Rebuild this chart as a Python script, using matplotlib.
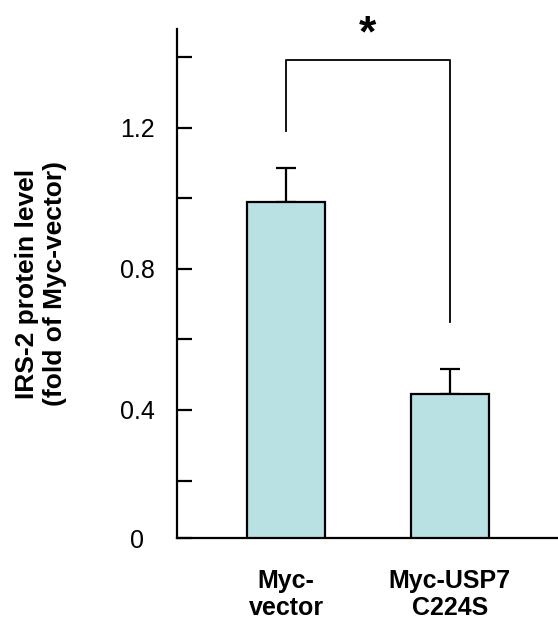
import matplotlib
matplotlib.use("Agg")
import matplotlib.pyplot as plt
import matplotlib.transforms as mtransforms

categories = ["Myc-\nvector", "Myc-USP7\nC224S"]
values = [0.99, 0.445]
errors = [0.095, 0.07]
ytick_values = [0.037, 0.2, 0.4, 0.6, 0.8, 1.0, 1.2, 1.4]
ytick_labels = ["0", "", "0.4", "", "0.8", "", "1.2", ""]

plt.rcParams['font.family'] = ['Liberation Sans', 'DejaVu Sans']

fig = plt.figure(figsize=(5.58, 6.19), dpi=100)
ax = fig.add_axes([177/558, 1 - 538/619, 1 - 177/558, (538 - 29)/619])

x = list(range(len(categories)))
ax.bar(x, values, width=0.48, color="#B9E0E2", edgecolor="black", linewidth=1.6, zorder=2)
ax.errorbar(x, values, yerr=[[0]*len(errors), errors], fmt="none", ecolor="black",
            elinewidth=1.6, capsize=7.5, capthick=1.6, zorder=1)

ax.set_xlim(-0.665, 1.66)
ax.set_ylim(0.037, 1.48)
ax.set_yticks(ytick_values)
ax.set_yticklabels(ytick_labels, fontsize=18)
ax.tick_params(axis='y', direction='in', length=11, width=1.6, pad=16)
ax.set_xticks(x)
ax.set_xticklabels(categories, fontsize=18, fontweight='bold')
ax.tick_params(axis='x', length=0, pad=22)
for s in ['top', 'right']:
    ax.spines[s].set_visible(False)
for s in ['left', 'bottom']:
    ax.spines[s].set_linewidth(1.6)

# the "0" label sits a little further left in the reference
zero_lbl = ax.get_yticklabels()[0]
zero_lbl.set_transform(zero_lbl.get_transform() +
                       mtransforms.ScaledTranslation(-8/72, 0, fig.dpi_scale_trans))

# significance bracket
bracket_y = 1.392
ax.plot([0, 0, 1, 1], [1.19, bracket_y, bracket_y, 0.65], color="black", lw=1.3,
        clip_on=False, zorder=3)
ax.text(0.5, 1.462, "*", ha='center', va='center', fontsize=32, fontweight='bold',
        clip_on=False)

fig.text(41/558, 1 - 284/619, "IRS-2 protein level\n(fold of Myc-vector)", rotation=90,
         ha='center', va='center', fontsize=19, fontweight='bold', multialignment='center')

fig.savefig("out.png", dpi=100)
